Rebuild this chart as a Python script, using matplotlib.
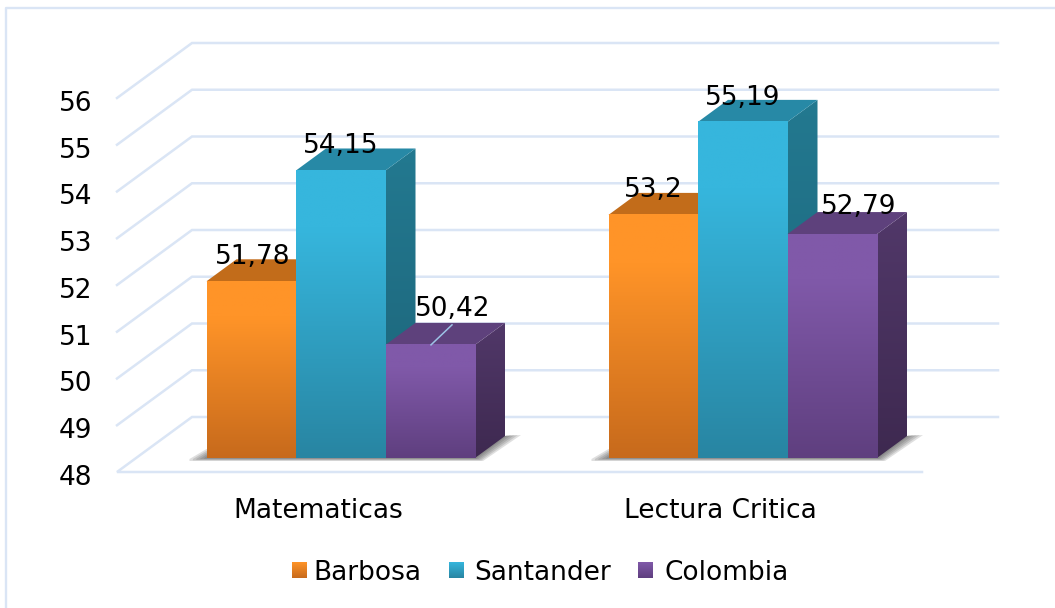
import numpy as np
import matplotlib
matplotlib.use('Agg')
import matplotlib.pyplot as plt
from matplotlib.colors import LinearSegmentedColormap
from matplotlib.patches import Polygon

categories = ['Matematicas', 'Lectura Critica']
series_names = ['Barbosa', 'Santander', 'Colombia']
barbosa = [51.78, 53.2]
santander = [54.15, 55.19]
colombia = [50.42, 52.79]
y_ticks = [48, 49, 50, 51, 52, 53, 54, 55, 56]
value_labels = [['51,78', '53,2'], ['54,15', '55,19'], ['50,42', '52,79']]

# colours per series: front top, front bottom, top face, side top, side bottom
styles = [
    ('#FF9428', '#C76A1C', '#C26C1A', '#B5621A', '#8F4E14'),
    ('#36B6DD', '#2885A2', '#2789A6', '#237990', '#1C6378'),
    ('#8059A9', '#5F3F7F', '#5E417C', '#513869', '#3E2950'),
]

# layout in pixels
base_px = 458.0
px_per_unit = 46.75
depth_x, depth_y = 30, 22
back_x, back_y = 75, 55
floor_drop = 14 / px_per_unit
group_left = [206.5, 608.5]
bar_w = 89.5
grid_color = '#DAE5F5'

fig = plt.figure(figsize=(10.55, 6.08), dpi=100)
ax = fig.add_axes([0, 0, 1, 1])
y_lo = 48 - (608 - base_px) / px_per_unit
y_hi = 48 + base_px / px_per_unit
ax.set_xlim(0, 1055)
ax.set_ylim(y_lo, y_hi)
ax.axis('off')

dy = depth_y / px_per_unit
by = back_y / px_per_unit


def grad(x0, x1, v_top, v_bot, c_top, c_bot, clip=None, zorder=3, hold=0.0):
    # colour stays at c_top for the first part of the height, then fades
    cmap = LinearSegmentedColormap.from_list('g', [(0, c_top), (hold, c_top), (1, c_bot)])
    im = ax.imshow(np.linspace(0, 1, 128).reshape(-1, 1), cmap=cmap, aspect='auto',
                   extent=[x0, x1, v_bot, v_top], origin='upper', zorder=zorder)
    if clip is not None:
        p = Polygon(clip, closed=True, transform=ax.transData, fc='none', ec='none')
        ax.add_patch(p)
        im.set_clip_path(p)
    return im


# border of the chart area
ax.plot([6, 6, 1055], [y_lo, y_hi - 7.5 / px_per_unit, y_hi - 7.5 / px_per_unit],
        color=grid_color, lw=1.7, zorder=1)

# walls and floor grid
for v in y_ticks[1:]:
    f = v - floor_drop
    ax.plot([117, 117 + back_x, 998], [f, f + by, f + by], color=grid_color, lw=1.8,
            solid_joinstyle='miter', zorder=1)
f0 = 48 - floor_drop
ax.plot([922, 117, 117 + back_x, 998], [f0, f0, f0 + by, f0 + by], color=grid_color, lw=1.8,
        solid_joinstyle='miter', zorder=1)

# soft shadows on the floor
for x0 in group_left:
    x1 = x0 + 3 * bar_w
    for k in [1, 0.8, 0.6, 0.4, 0.2]:
        shadow = Polygon([(x0 - 17 * k, 48 - 1 / px_per_unit), (x0, 48 + 9 * k / px_per_unit),
                          (x1 + depth_x, 48 + dy), (x1 + depth_x + 16 * k, 48 + dy + 1 / px_per_unit),
                          (x1 + 8 * k, 48 - 3 * k / px_per_unit), (x0 - 17 * k, 48 - 3 * k / px_per_unit)],
                         closed=True, fc='#3C3C3C', ec='none', alpha=0.16, zorder=2)
        ax.add_patch(shadow)

# bars left to right, each front covers the depth of the bar before it
all_values = [barbosa, santander, colombia]
for g, x0 in enumerate(group_left):
    for s in [0, 1, 2]:
        v = all_values[s][g]
        c_top, c_bot, c_cap, c_st, c_sb = styles[s]
        xl = x0 + s * bar_w
        xr = xl + bar_w
        z = 3 + s * 0.1
        side = [(xr, 48), (xr + depth_x, 48 + dy), (xr + depth_x, v + dy), (xr, v)]
        grad(xr, xr + depth_x, v + dy, 48, c_st, c_sb, clip=side, zorder=z)
        ax.add_patch(Polygon([(xl, v), (xr, v), (xr + depth_x, v + dy), (xl + depth_x, v + dy)],
                             closed=True, fc=c_cap, ec='none', zorder=z))
        grad(xl, xr, v, 48, c_top, c_bot, zorder=z + 0.01, hold=0.2)

ax.set_xlim(0, 1055)
ax.set_ylim(y_lo, y_hi)

# leader line of the 50,42 label
ax.plot([431, 452], [colombia[0], colombia[0] + 20 / px_per_unit], color='#9DC3E6', lw=1.1, zorder=5)

fs = 19
# value labels: horizontal and vertical nudge in pixels from the top centre of the bar
nudges = [[(1, 24), (0, 25)], [(0, 24), (0, 24)], [(22, 36), (26, 27)]]
for s in range(3):
    for g, x0 in enumerate(group_left):
        v = all_values[s][g]
        nx, ny = nudges[s][g]
        ax.text(x0 + (s + 0.5) * bar_w + nx, v + ny / px_per_unit, value_labels[s][g],
                ha='center', va='center', fontsize=fs, color='black', zorder=6)

# axis and category labels
for v in y_ticks:
    ax.text(92, v - floor_drop - 6 / px_per_unit, str(v), ha='right', va='center',
            fontsize=fs, color='black', zorder=6)
for x0, name in zip(group_left, categories):
    ax.text(x0 + 1.5 * bar_w - 22.5, 48 - 53 / px_per_unit, name, ha='center', va='center',
            fontsize=fs, color='black')

# legend
leg_sq = [292, 449, 638]
leg_txt = [313, 474, 665]
leg_y = 48 - 113 / px_per_unit
for s, name in enumerate(series_names):
    h = 7.5 / px_per_unit
    grad(leg_sq[s], leg_sq[s] + 15, leg_y + h, leg_y - h, styles[s][0], styles[s][1], zorder=4)
    ax.text(leg_txt[s], leg_y - 2 / px_per_unit, name, ha='left', va='center', fontsize=fs, color='black')

ax.set_xlim(0, 1055)
ax.set_ylim(y_lo, y_hi)
fig.savefig('out.png', dpi=100)
